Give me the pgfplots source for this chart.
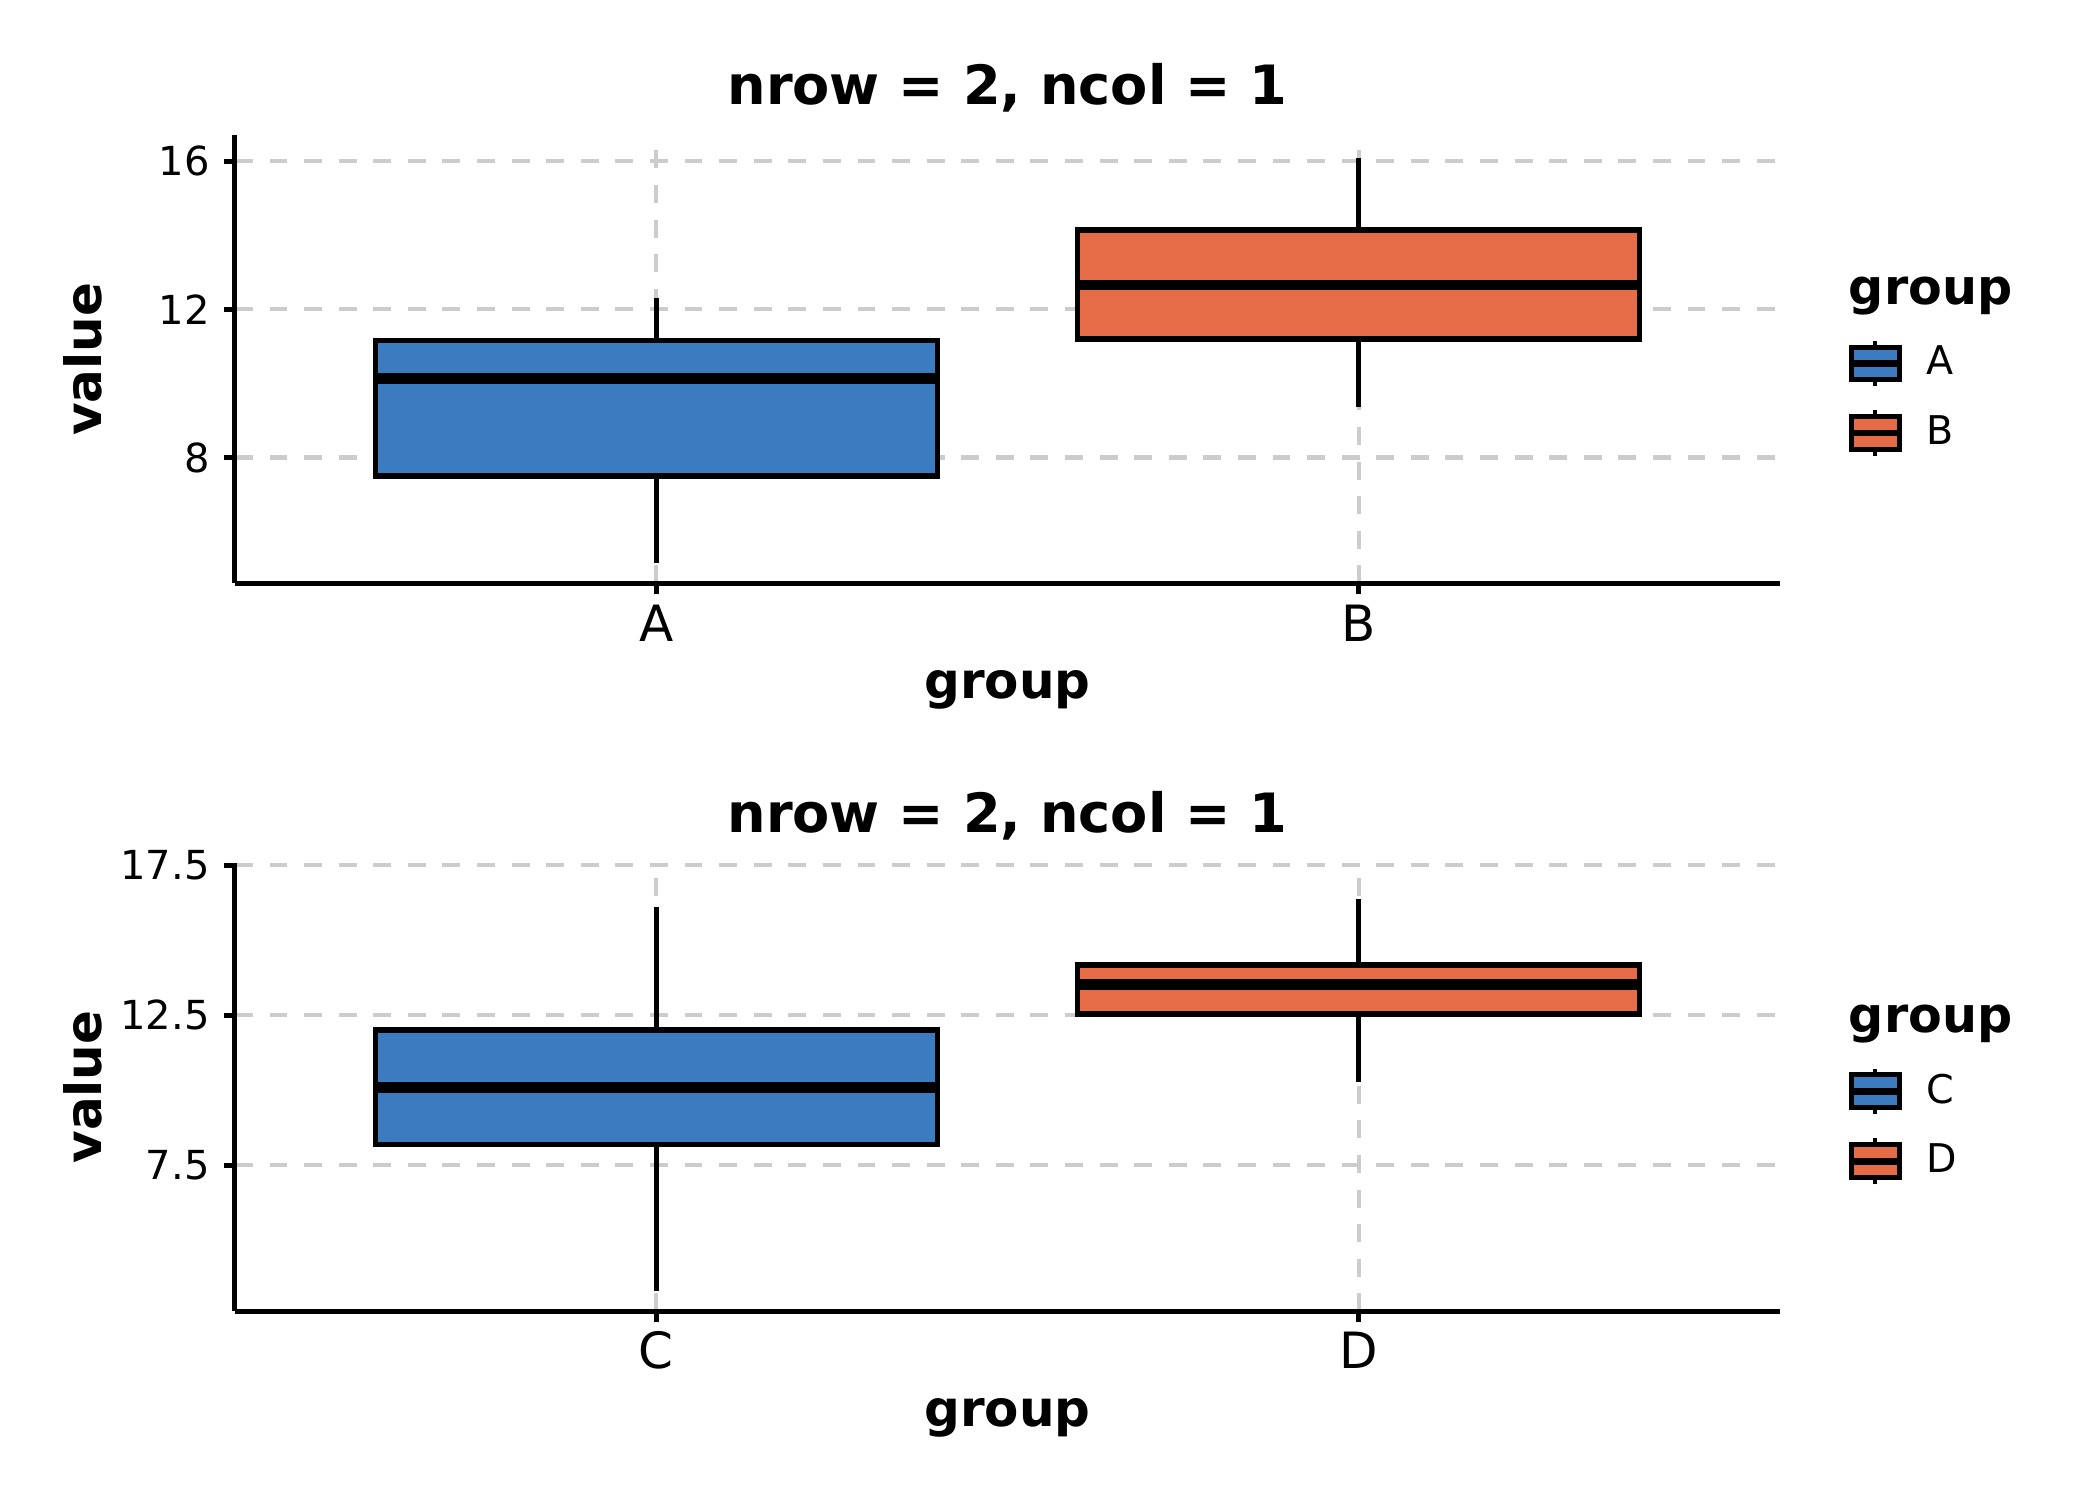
\documentclass[border=0pt]{standalone}
\usepackage{fontspec}
\setmainfont{DejaVu Sans}
\usepackage{pgfplots}
\pgfplotsset{compat=1.18}
\definecolor{blueA}{HTML}{3B7BBF}
\definecolor{orangeB}{HTML}{E66C47}
\definecolor{gridgray}{HTML}{CCCCCC}
\pgfplotsset{
  panel/.style={
    scale only axis, width=370.8pt, height=107.6pt,
    clip=false,
    axis x line*=bottom, axis y line*=left,
    axis line style={-, line width=1.2pt, black},
    tick align=outside, major tick length=2.6pt,
    tick style={line width=1.1pt, black},
    xmin=0.4, xmax=2.6, xtick={1,2},
    xmajorgrids, ymajorgrids,
    major grid style={draw=gridgray, line width=1pt, dash pattern=on 4.3pt off 4pt},
    /pgf/number format/assume math mode=true,
    /pgf/number format/fixed,
    yticklabel style={font=\fontsize{9.6}{11}\selectfont, inner sep=0pt, xshift=-3.3pt},
    xticklabel style={font=\fontsize{12}{14}\selectfont, anchor=base, yshift=-11.25pt},
    title style={at={(axis description cs:0.5,1.0128)}, anchor=base, font=\fontsize{13}{16}\selectfont\bfseries},
    xlabel style={at={(axis description cs:0.5,-0.2565)}, anchor=base, font=\fontsize{12}{15}\selectfont\bfseries},
    ylabel style={at={(axis description cs:-0.0863,0.5)}, anchor=base, font=\fontsize{12}{15}\selectfont\bfseries},
    xlabel={group}, ylabel={value},
    title={nrow = 2, ncol = 1},
    legend cell align=left,
    legend style={draw=none, fill=none, at={(axis description cs:1.044,0.4126)}, anchor=west,
      font=\fontsize{9.5}{11}\selectfont, inner sep=0pt, outer sep=0pt,
      row sep=4.3pt, column sep=3.8pt},
  },
  boxs/.style={draw=black, line width=1.3pt, fill=#1, forget plot},
  whis/.style={draw=black, line width=1.3pt, forget plot},
  medi/.style={draw=black, line width=2.6pt, forget plot},
  keyA/.style={legend image code/.code={
    \draw[black, line width=1pt] (5.75pt,-5.5pt) -- (5.75pt,5.5pt);
    \draw[fill=#1, draw=black, line width=1.2pt] (0pt,-3.95pt) rectangle (11.5pt,3.95pt);
    \draw[black, line width=1.5pt] (0pt,0pt) -- (11.5pt,0pt);}},
}
\begin{document}
\begin{tikzpicture}
\useasboundingbox (-56.4pt,32.4pt) rectangle (447.6pt,-327.6pt);
% ---------- top panel ----------
\begin{axis}[panel, at={(0pt,0pt)}, anchor=north west,
  ymin=4.6, ymax=16.71, ytick={8,12,16}, xticklabels={A,B}]
% group A: lower whisker 5.16, Q1 7.50, median 10.14, Q3 11.16, upper whisker 12.30
\addplot[whis] coordinates {(1,5.16) (1,7.50)};
\addplot[whis] coordinates {(1,11.16) (1,12.30)};
\addplot[boxs=blueA] coordinates {(0.6,7.50) (1.4,7.50) (1.4,11.16) (0.6,11.16)} --cycle;
\addplot[medi] coordinates {(0.6,10.14) (1.4,10.14)};
% group B: 9.37, 11.20, 12.66, 14.15, 16.09
\addplot[whis] coordinates {(2,9.37) (2,11.20)};
\addplot[whis] coordinates {(2,14.15) (2,16.09)};
\addplot[boxs=orangeB] coordinates {(1.6,11.20) (2.4,11.20) (2.4,14.15) (1.6,14.15)} --cycle;
\addplot[medi] coordinates {(1.6,12.66) (2.4,12.66)};
\addlegendimage{keyA=blueA}
\addlegendentry{A}
\addlegendimage{keyA=orangeB}
\addlegendentry{B}
\node[anchor=base west, inner sep=0pt, font=\fontsize{11.8}{13}\selectfont\bfseries] at (axis description cs:1.044,0.621) {group};
\end{axis}
% ---------- bottom panel ----------
\begin{axis}[panel, at={(0pt,-174.7pt)}, anchor=north west,
  ymin=2.63, ymax=17.58, ytick={7.5,12.5,17.5}, xticklabels={C,D}]
% group C: 3.32, 8.19, 10.08, 12.01, 16.10
\addplot[whis] coordinates {(1,3.32) (1,8.19)};
\addplot[whis] coordinates {(1,12.01) (1,16.10)};
\addplot[boxs=blueA] coordinates {(0.6,8.19) (1.4,8.19) (1.4,12.01) (0.6,12.01)} --cycle;
\addplot[medi] coordinates {(0.6,10.08) (1.4,10.08)};
% group D: 10.28, 12.54, 13.54, 14.17, 16.39
\addplot[whis] coordinates {(2,10.28) (2,12.54)};
\addplot[whis] coordinates {(2,14.17) (2,16.39)};
\addplot[boxs=orangeB] coordinates {(1.6,12.54) (2.4,12.54) (2.4,14.17) (1.6,14.17)} --cycle;
\addplot[medi] coordinates {(1.6,13.54) (2.4,13.54)};
\addlegendimage{keyA=blueA}
\addlegendentry{C}
\addlegendimage{keyA=orangeB}
\addlegendentry{D}
\node[anchor=base west, inner sep=0pt, font=\fontsize{11.8}{13}\selectfont\bfseries] at (axis description cs:1.044,0.621) {group};
\end{axis}
\end{tikzpicture}
\end{document}
